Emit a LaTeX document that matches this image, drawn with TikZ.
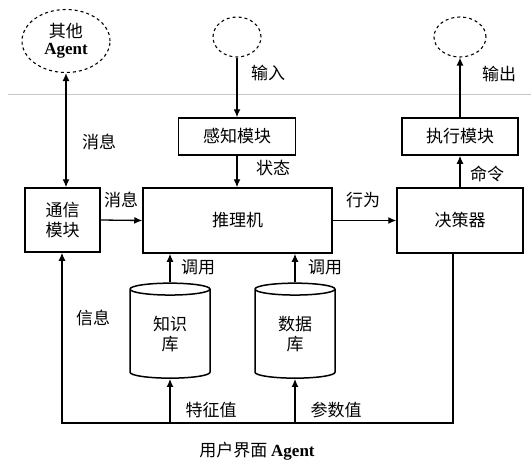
\documentclass[tikz,border=0pt]{standalone}
\usepackage{fontspec}
\setmainfont{Liberation Serif}
\newfontfamily\cjk{Noto Sans CJK SC}
\usetikzlibrary{shapes.geometric,arrows.meta}
\begin{document}
\begin{tikzpicture}[x=1pt,y=-1pt,font=\cjk\fontsize{17}{20}\selectfont]
    \useasboundingbox (0,0) rectangle (531,469);

    \tikzset{box/.style={draw, line width=1.5pt, inner sep=0pt, align=center},
             cloud/.style={ellipse, draw, dashed, line width=1.1pt, inner sep=0pt, align=center},
             store/.style={cylinder, shape border rotate=90, draw, line width=1.5pt, aspect=0.35,
                           minimum width=80pt, minimum height=95pt, inner sep=0pt, align=center},
             flow/.style={-{Latex[length=8pt,width=7pt]}, line width=1.3pt},
             tag/.style={inner sep=1pt}}

    % boundary of the agent
    \draw[gray!45, line width=1pt] (8,94) -- (531,94);

    % outside
    \node[cloud, minimum width=88pt, minimum height=63pt] (other) at (66,41)
        {其他\\[-3pt]{\rmfamily\bfseries Agent}};
    \node[cloud, minimum width=48pt, minimum height=40pt] (src) at (237,37) {};
    \node[cloud, minimum width=52pt, minimum height=40pt] (dst) at (460,37) {};

    % modules
    \node[box, minimum width=117pt, minimum height=37pt] (sense) at (237,136.5) {感知模块};
    \node[box, minimum width=189pt, minimum height=65pt] (infer) at (237.5,220.5) {推理机};
    \node[box, minimum width=75pt, minimum height=64pt] (comm) at (62.5,220) {通信\\模块};
    \node[box, minimum width=126pt, minimum height=65pt] (plan) at (460,220.5) {决策器};
    \node[box, minimum width=116pt, minimum height=37pt] (act) at (460,136.5) {执行模块};

    % stores
    \node[store] (kb) at (170,334) {知识\\库};
    \node[store] (db) at (295,334) {数据\\库};

    \coordinate (br) at (453,423);
    \coordinate (bl) at (62,423);

    % connectors
    \draw[flow, {Latex[length=8pt,width=7pt]}-{Latex[length=8pt,width=7pt]}]
        (other.south) -- (other.south |- comm.north);
    \draw[flow] (src.south) -- (src.south |- sense.north);
    \draw[flow] (sense.south) -- (sense.south |- infer.north);
    \draw[flow] (comm.east) -- (infer.west);
    \draw[flow] (infer.east |- plan.west) -- (plan.west);
    \draw[flow] (plan.north) -- (act.south);
    \draw[flow] (act.north) -- (dst.south);
    \draw[flow] (kb.north) -- (kb.north |- infer.south);
    \draw[flow] (db.north) -- (db.north |- infer.south);
    \draw[flow] (br |- plan.south) -- (br) -- (bl) -- (bl |- comm.south);
    \draw[flow] (kb.south |- bl) -- (kb.south);
    \draw[flow] (db.south |- bl) -- (db.south);

    % labels
    \node[tag] (l1) at (268,73) {输入};
    \node[tag] (l2) at (273,168) {状态};
    \node[tag] (l3) at (99,142) {消息};
    \node[tag] (l4) at (121,200) {消息};
    \node[tag] (l5) at (363,200) {行为};
    \node[tag] (l6) at (487,174) {命令};
    \node[tag] (l7) at (499,74) {输出};
    \node[tag] (l8) at (93,318) {信息};
    \node[tag] (l9) at (198,267) {调用};
    \node[tag] (l10) at (325,267) {调用};
    \node[tag] (l11) at (211,410) {特征值};
    \node[tag] (l12) at (336,410) {参数值};
    \node[tag] (cap) at (257,451) {用户界面 {\rmfamily\bfseries Agent}};

\end{tikzpicture}
\end{document}
